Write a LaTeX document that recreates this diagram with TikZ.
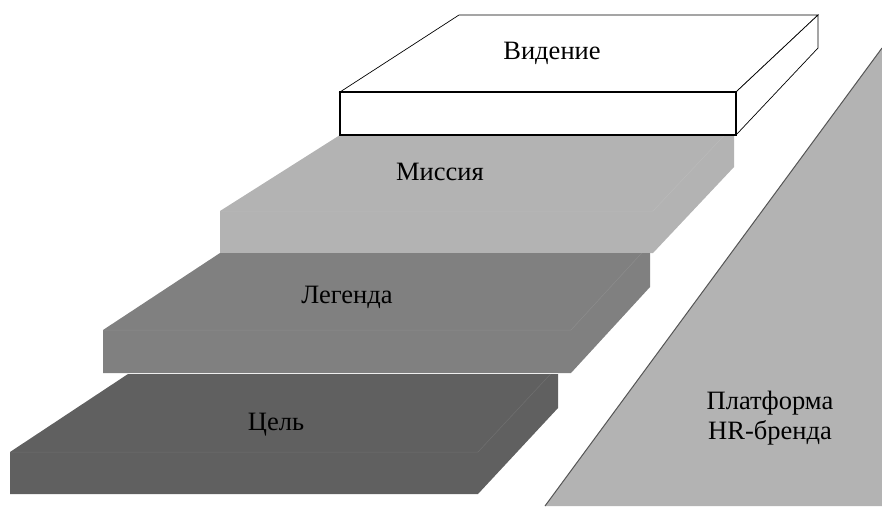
\documentclass[tikz,border=0pt]{standalone}
\usepackage{fontspec}
\setmainfont{Liberation Serif}
\usetikzlibrary{calc}

\definecolor{missiongray}{RGB}{179,179,179}
\definecolor{legendgray}{RGB}{128,128,128}
\definecolor{goalgray}{RGB}{96,96,96}
\definecolor{platformgray}{RGB}{179,179,179}
\definecolor{platformedge}{RGB}{85,85,85}

\tikzset{
  slabseam/.style={white,opacity=0.1,line width=0.5pt},
  label/.style={font=\fontsize{26.5}{30}\selectfont,inner sep=0pt,align=center},
  boxline/.style={black,line width=0.7pt},
}

\begin{document}
\begin{tikzpicture}[x=1pt, y=-1pt]
    \useasboundingbox (0,0) rectangle (882,506);
    % platform
    \fill[platformgray] (882,48) -- (882,506) -- (545,506) -- cycle;
    \draw[platformedge,line width=1pt] (882,48) -- (545,506);
    \node[label] (platform) at (770,418) {Платформа\\HR-бренда};
    % steps
    \foreach \nm/\clr/\yb/\yf/\ybot/\bl/\fl/\rx/\rv/\fr/\txt/\tx/\ty in {
        mission/missiongray/135/211/253/340/220/734/167/653/Миссия/440/172,
        legend/legendgray/253/330/373/220/103/650/287/571/Легенда/347/297,
        goal/goalgray/374/452/494/128/10/558/408/478/Цель/276/425}{
      \pgfmathsetmacro{\sx}{\fr+(\yf-\yb)*(\rx-\fr)/(\ybot-\rv)}
      \fill[\clr] (\bl,\yb) -- (\rx,\yb) -- (\rx,\rv) -- (\fr,\ybot)
        -- (\fl,\ybot) -- (\fl,\yf) -- cycle;
      \draw[slabseam] (\fl,\yf) -- (\fr,\yf) -- (\sx,\yb);
      \node[label] (\nm) at (\tx,\ty) {\txt};
    }
    % vision box
    \filldraw[boxline,fill=white] (340,92) -- (459,15) -- (818,15) -- (736,92) -- cycle;
    \filldraw[boxline,fill=white] (736,92) -- (818,15) -- (818,48) -- (736,135) -- cycle;
    \filldraw[black,fill=white,line width=1.3pt] (340,92) rectangle (736,135);
    \node[label] (vision) at (552,53) {Видение};
\end{tikzpicture}
\end{document}
